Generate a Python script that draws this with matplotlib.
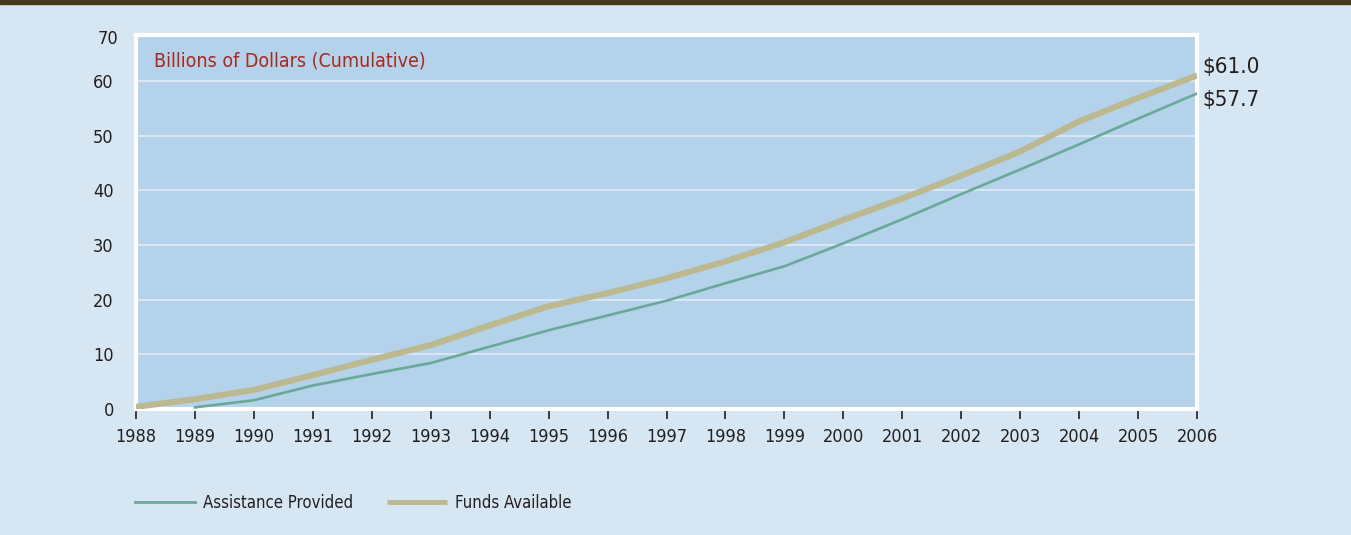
import matplotlib.pyplot as plt
import numpy as np

years = list(range(1988, 2007))
funds = [0.4, 1.8, 3.5, 6.2, 9.0, 11.7, 15.3, 18.8, 21.2, 23.9, 27.0, 30.5,
         34.6, 38.5, 42.7, 47.1, 52.6, 56.9, 61.0]
assist_years = list(range(1989, 2007))
assist = [0.3, 1.6, 4.3, 6.4, 8.4, 11.4, 14.4, 17.1, 19.8, 23.0, 26.1,
          30.3, 34.7, 39.3, 43.8, 48.4, 53.1, 57.7]
yticks = [0, 10, 20, 30, 40, 50, 60]

bg = '#d6e6f2'
face = '#b4d3ea'
teal = '#6aa89a'
tan = '#bcb890'
txt = '#231f20'

plt.rcParams['font.family'] = ['DejaVu Sans']
plt.rcParams['font.stretch'] = 'condensed'

fig = plt.figure(figsize=(13.51, 5.35), dpi=100, facecolor=bg)
# dark band on top
fig.patches.append(plt.Rectangle((0, 1 - 4 / 535), 1, 4 / 535, transform=fig.transFigure,
                                 color='#43391d', zorder=0))

ax = fig.add_axes([136 / 1351, 1 - 409 / 535, 1061 / 1351, 374 / 535])
ax.set_facecolor(face)
ax.set_xlim(1988, 2006)
ax.set_ylim(0, 68.4)

ax.plot(years, funds, color=tan, lw=4.4, solid_capstyle='butt', zorder=3, label='Funds Available')
ax.plot(assist_years, assist, color=teal, lw=1.9, zorder=4, label='Assistance Provided')

ax.set_yticks(yticks)
ax.set_yticklabels([str(v) for v in yticks], fontsize=13, color=txt)
ax.tick_params(axis='y', length=0, pad=16)
ax.yaxis.grid(True, color='#e4eef6', lw=1.1)
ax.set_axisbelow(True)
ax.text(-0.017, 0.99, '70', transform=ax.transAxes, ha='right', va='center',
        fontsize=13, color=txt)

ax.set_xticks(years)
ax.set_xticklabels([str(y) for y in years], fontsize=13, color=txt)
ax.tick_params(axis='x', direction='out', length=7, width=1.2, color=txt, pad=7)

for s in ax.spines.values():
    s.set_color('white')
    s.set_linewidth(3)

ax.text(0.017, 0.93, 'Billions of Dollars (Cumulative)', transform=ax.transAxes,
        fontsize=14, color='#a52a22', va='center', ha='left')

ax.annotate('$61.0', xy=(2006, funds[-1]), xytext=(4, 6), textcoords='offset points',
            fontsize=16, color=txt, va='center', ha='left', annotation_clip=False)
ax.annotate('$57.7', xy=(2006, assist[-1]), xytext=(4, -5), textcoords='offset points',
            fontsize=16, color=txt, va='center', ha='left', annotation_clip=False)

h, l = ax.get_legend_handles_labels()
leg = fig.legend(h[::-1], l[::-1], loc='center left', bbox_to_anchor=(120 / 1351, 1 - 503 / 535),
                 ncol=2, frameon=False, fontsize=12, handlelength=3.6, handletextpad=0.5,
                 columnspacing=2.0, labelcolor=txt)
leg.get_lines()[0].set_linewidth(2)
leg.get_lines()[1].set_linewidth(3.5)

fig.savefig('out.png', dpi=100, facecolor=bg)
